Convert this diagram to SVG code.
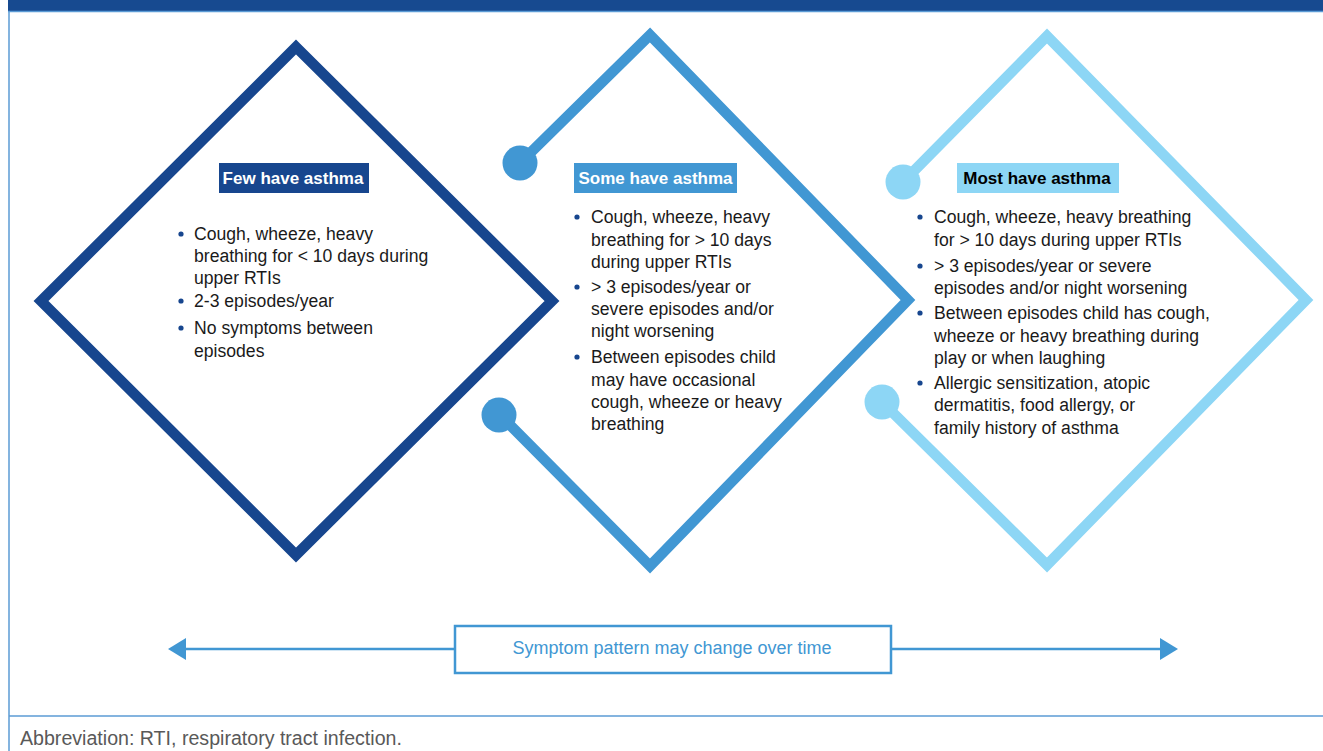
<svg xmlns="http://www.w3.org/2000/svg" width="1323" height="751" viewBox="0 0 1323 751">
  <style>
    .frame { stroke: #5b9bd5; stroke-width: 1.5; fill: none; }
    .dia { fill: none; stroke-width: 10.5; stroke-linejoin: miter; stroke-linecap: butt; }
    .d1 { stroke: #17468e; }
    .d2 { stroke: #4197d3; }
    .d3 { stroke: #8dd6f5; }
    .head { font-family: "Liberation Sans", Arial, sans-serif; font-size: 17px; font-weight: bold; }
    .body { font-family: "Liberation Sans", Arial, sans-serif; font-size: 17.6px; fill: #1a1a1a; }
    .dot { fill: #17468e; }
    .conn { stroke: #4197d3; stroke-width: 2.5; fill: none; }
    .note { font-family: "Liberation Sans", Arial, sans-serif; font-size: 19.6px; fill: #595959; }
  </style>
  <defs>
    <marker id="tip" viewBox="0 0 18 22" refX="0" refY="11" markerWidth="18" markerHeight="22" markerUnits="userSpaceOnUse" orient="auto-start-reverse">
      <path d="M0,0 L18,11 L0,22 Z" fill="#4197d3"/>
    </marker>
  </defs>

  <rect width="1323" height="751" fill="#ffffff"/>

  <!-- page frame -->
  <g id="frame">
    <rect x="8" y="0" width="1315" height="11" fill="#174a90"/>
    <line class="frame" x1="8" y1="11.5" x2="1323" y2="11.5"/>
    <line class="frame" x1="9" y1="11" x2="9" y2="751"/>
    <line class="frame" x1="9" y1="716" x2="1323" y2="716"/>
  </g>

  <!-- three overlapping diamonds -->
  <g id="few">
    <polygon class="dia d1" points="296,47 552,301 296,555 41,301"/>
    <rect x="219" y="163" width="150" height="30" fill="#17468e"/>
    <text class="head" x="293" y="184" text-anchor="middle" fill="#ffffff">Few have asthma</text>
    <circle class="dot" cx="181" cy="234" r="2.6"/>
    <circle class="dot" cx="181" cy="301" r="2.6"/>
    <circle class="dot" cx="181" cy="328" r="2.6"/>
    <text class="body">
      <tspan x="194" y="240">Cough, wheeze, heavy</tspan>
      <tspan x="194" y="262">breathing for &lt; 10 days during</tspan>
      <tspan x="194" y="284">upper RTIs</tspan>
      <tspan x="194" y="307">2-3 episodes/year</tspan>
      <tspan x="194" y="334">No symptoms between</tspan>
      <tspan x="194" y="357">episodes</tspan>
    </text>
  </g>

  <g id="some">
    <polyline class="dia d2" points="520,163 650,35 908,300 650,566 500,415"/>
    <circle cx="520" cy="163" r="17.5" fill="#4197d3"/>
    <circle cx="499" cy="415" r="17.5" fill="#4197d3"/>
    <rect x="574" y="163" width="163" height="30" fill="#4197d3"/>
    <text class="head" x="655.5" y="184" text-anchor="middle" fill="#ffffff">Some have asthma</text>
    <circle class="dot" cx="577" cy="217" r="2.6"/>
    <circle class="dot" cx="577" cy="287" r="2.6"/>
    <circle class="dot" cx="577" cy="357" r="2.6"/>
    <text class="body">
      <tspan x="591" y="223">Cough, wheeze, heavy</tspan>
      <tspan x="591" y="246">breathing for &gt; 10 days</tspan>
      <tspan x="591" y="268">during upper RTIs</tspan>
      <tspan x="591" y="293">&gt; 3 episodes/year or</tspan>
      <tspan x="591" y="315">severe episodes and/or</tspan>
      <tspan x="591" y="337">night worsening</tspan>
      <tspan x="591" y="363">Between episodes child</tspan>
      <tspan x="591" y="386">may have occasional</tspan>
      <tspan x="591" y="408">cough, wheeze or heavy</tspan>
      <tspan x="591" y="430">breathing</tspan>
    </text>
  </g>

  <g id="most">
    <polyline class="dia d3" points="903,182 1047,36 1306,300 1047,565 882,402"/>
    <circle cx="903" cy="182" r="17.5" fill="#8dd6f5"/>
    <circle cx="882" cy="402" r="17.5" fill="#8dd6f5"/>
    <rect x="957" y="163" width="162" height="30" fill="#8dd6f5"/>
    <text class="head" x="1037" y="184" text-anchor="middle" fill="#000000">Most have asthma</text>
    <circle class="dot" cx="920" cy="217" r="2.6"/>
    <circle class="dot" cx="920" cy="266" r="2.6"/>
    <circle class="dot" cx="920" cy="313" r="2.6"/>
    <circle class="dot" cx="920" cy="383" r="2.6"/>
    <text class="body">
      <tspan x="934" y="223">Cough, wheeze, heavy breathing</tspan>
      <tspan x="934" y="246">for &gt; 10 days during upper RTIs</tspan>
      <tspan x="934" y="272">&gt; 3 episodes/year or severe</tspan>
      <tspan x="934" y="294">episodes and/or night worsening</tspan>
      <tspan x="934" y="319">Between episodes child has cough,</tspan>
      <tspan x="934" y="342">wheeze or heavy breathing during</tspan>
      <tspan x="934" y="364">play or when laughing</tspan>
      <tspan x="934" y="389">Allergic sensitization, atopic</tspan>
      <tspan x="934" y="411">dermatitis, food allergy, or</tspan>
      <tspan x="934" y="434">family history of asthma</tspan>
    </text>
  </g>

  <!-- timeline arrows -->
  <g id="connectors">
    <line class="conn" x1="455" y1="649" x2="186" y2="649" marker-end="url(#tip)"/>
    <line class="conn" x1="891" y1="649" x2="1160" y2="649" marker-end="url(#tip)"/>
  </g>

  <g id="timeline">
    <rect x="455" y="626" width="436" height="47" fill="#ffffff" stroke="#4197d3" stroke-width="2.5"/>
    <text x="672" y="654" text-anchor="middle" font-family="Liberation Sans, Arial, sans-serif" font-size="18px" fill="#4197d3">Symptom pattern may change over time</text>
  </g>

  <text class="note" x="20" y="745">Abbreviation: RTI, respiratory tract infection.</text>
</svg>
